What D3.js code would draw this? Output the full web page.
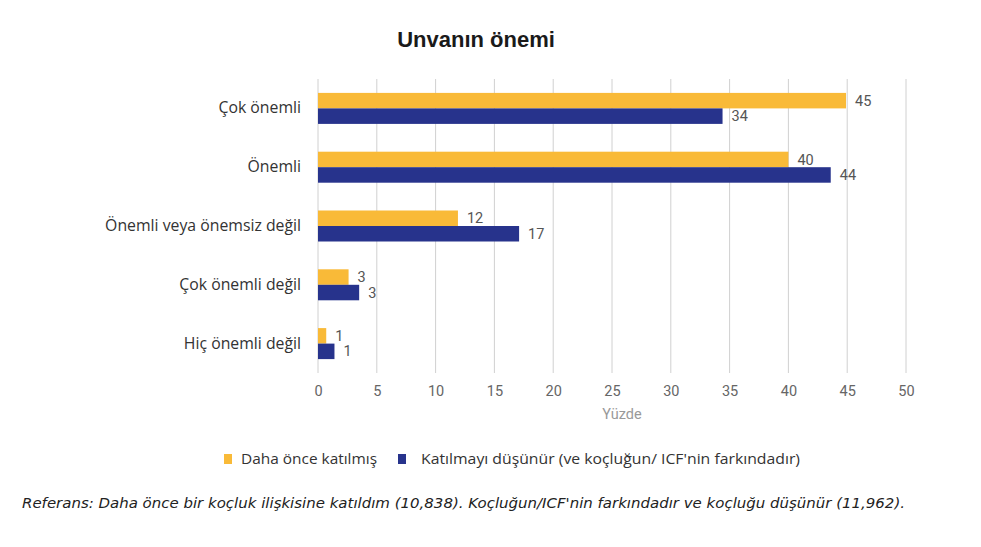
<!DOCTYPE html>
<html>
<head>
<meta charset="utf-8">
<script src="https://cdn.jsdelivr.net/npm/d3@7"></script>
<style>
  body { margin: 0; background: #fff; }
</style>
</head>
<body>
<svg id="chart"></svg>
<script>
// categories top to bottom
const categories = ['Çok önemli', 'Önemli', 'Önemli veya önemsiz değil', 'Çok önemli değil', 'Hiç önemli değil'];
const seriesNames = ['Daha önce katılmış', "Katılmayı düşünür (ve koçluğun/ ICF'nin farkındadır)"];
// bar lengths
const attended = [44.9, 40.0, 11.9, 2.6, 0.7];
const considering = [34.4, 43.6, 17.1, 3.5, 1.4];
// printed labels
const attendedLabels = ['45', '40', '12', '3', '1'];
const consideringLabels = ['34', '44', '17', '3', '1'];
const xTicks = [0, 5, 10, 15, 20, 25, 30, 35, 40, 45, 50];

const width = 981, height = 547;
const colors = ['#F9BA38', '#27338C'];

const svg = d3.select('#chart')
    .attr('width', width)
    .attr('height', height);

const x = d3.scaleLinear()
    .domain([0, 50])
    .range([318, 906]);

const y = d3.scaleBand()
    .domain(categories)
    .range([79, 373]);

const pairH = 31;
const sub = d3.scaleBand()
    .domain([0, 1])
    .range([0, pairH]);

// title
svg.append('text')
   .attr('x', 476)
   .attr('y', 47)
   .attr('text-anchor', 'middle')
   .attr('font-family', 'Liberation Sans, Arial, sans-serif')
   .attr('font-weight', 'bold')
   .attr('font-size', '22px')
   .attr('fill', '#1a1a1a')
   .text('Unvanın önemi');

// gridlines
svg.append('g')
   .selectAll('line')
   .data(xTicks)
   .enter()
   .append('line')
   .attr('x1', d => x(d))
   .attr('x2', d => x(d))
   .attr('y1', 79)
   .attr('y2', 373)
   .attr('stroke', '#d0d0d0')
   .attr('stroke-width', 1);

// x axis tick labels
const xAxis = d3.axisBottom(x).tickValues(xTicks).tickSize(0).tickPadding(0);
const gx = svg.append('g')
   .attr('transform', 'translate(0,386)')
   .call(xAxis);
gx.select('.domain').remove();
gx.selectAll('text')
  .attr('font-family', 'Roboto, sans-serif')
  .attr('font-size', '14.5px')
  .attr('fill', '#666');

svg.append('text')
   .attr('x', 622)
   .attr('y', 419)
   .attr('text-anchor', 'middle')
   .attr('font-family', 'Roboto, sans-serif')
   .attr('font-size', '14.5px')
   .attr('fill', '#999')
   .text('Yüzde');

// y axis category labels
const yAxis = d3.axisLeft(y).tickSize(0).tickPadding(17);
const gy = svg.append('g')
   .attr('transform', `translate(${x(0)},0)`)
   .call(yAxis);
gy.select('.domain').remove();
gy.selectAll('text')
  .attr('font-family', 'Open Sans, sans-serif')
  .attr('font-size', '15.8px')
  .attr('fill', '#333');

// bars
const rows = categories.map((c, i) => ({
    cat: c,
    vals: [
        { s: 0, v: attended[i], label: attendedLabels[i] },
        { s: 1, v: considering[i], label: consideringLabels[i] }
    ]
}));

const groups = svg.append('g')
   .selectAll('g')
   .data(rows)
   .enter()
   .append('g')
   .attr('transform', d => `translate(0,${y(d.cat) + (y.bandwidth() - pairH) / 2})`);

groups.selectAll('rect')
   .data(d => d.vals)
   .enter()
   .append('rect')
   .attr('x', x(0))
   .attr('y', d => sub(d.s))
   .attr('width', d => x(d.v) - x(0))
   .attr('height', sub.bandwidth())
   .attr('fill', d => colors[d.s]);

groups.selectAll('text')
   .data(d => d.vals)
   .enter()
   .append('text')
   .attr('x', d => x(d.v) + 9)
   .attr('y', d => sub(d.s) + sub.bandwidth() / 2)
   .attr('dy', '0.35em')
   .attr('font-family', 'Roboto, sans-serif')
   .attr('font-size', '14.5px')
   .attr('fill', '#555')
   .text(d => d.label);

// legend
const legendX = [224, 398];
const legendW = [136, 379];
const legend = svg.append('g')
   .selectAll('g')
   .data(seriesNames)
   .enter()
   .append('g')
   .attr('transform', (d, i) => `translate(${legendX[i]},459)`);

legend.append('rect')
   .attr('x', 0)
   .attr('y', -5)
   .attr('width', 8)
   .attr('height', 10)
   .attr('fill', (d, i) => colors[i]);

legend.append('text')
   .attr('x', (d, i) => i === 0 ? 17 : 23)
   .attr('y', 0)
   .attr('dy', '0.35em')
   .attr('font-family', 'Open Sans, sans-serif')
   .attr('font-size', '15px')
   .attr('textLength', (d, i) => legendW[i])
   .attr('lengthAdjust', 'spacingAndGlyphs')
   .attr('fill', '#333')
   .text(d => d);

// footnote
svg.append('text')
   .attr('x', 22)
   .attr('y', 508)
   .attr('font-family', 'DejaVu Sans, sans-serif')
   .attr('font-style', 'italic')
   .attr('font-size', '14.5px')
   .attr('textLength', 883)
   .attr('lengthAdjust', 'spacingAndGlyphs')
   .attr('fill', '#222')
   .text("Referans: Daha önce bir koçluk ilişkisine katıldım (10,838). Koçluğun/ICF'nin farkındadır ve koçluğu düşünür (11,962).");
</script>
</body>
</html>
